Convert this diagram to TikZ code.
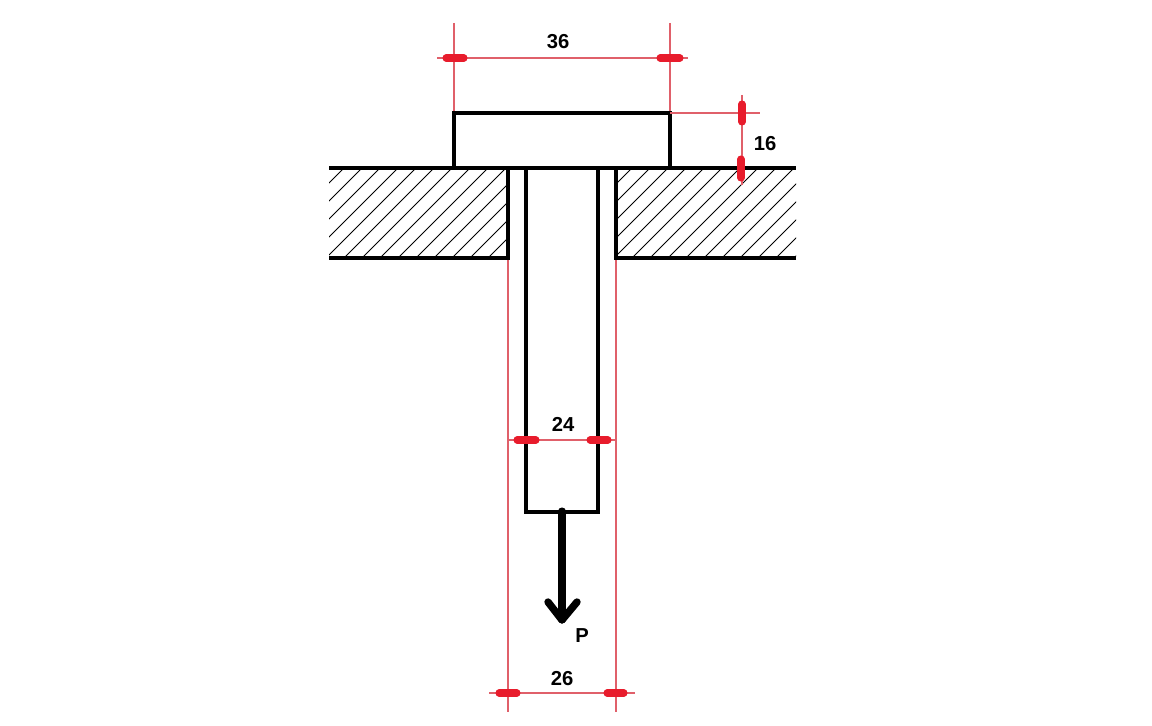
\documentclass[tikz,border=0pt]{standalone}
\usepackage{fontspec}
\setmainfont{Liberation Sans}
\definecolor{dimred}{RGB}{224,96,106}
\definecolor{tickred}{RGB}{232,28,44}
\begin{document}
\begin{tikzpicture}[x=0.02cm,y=-0.02cm,
  part/.style={line width=2pt,line join=miter},
  hatchline/.style={line width=0.5pt},
  dimline/.style={dimred,line width=0.6pt},
  dimtick/.style={tickred,line width=4pt,line cap=round},
  dimlabel/.style={inner sep=0pt,font=\fontsize{11.5}{12}\selectfont\bfseries}]
\useasboundingbox (0,0) rectangle (1152,726);

%hatching
\begin{scope}
\clip (329,168) rectangle (508,258);
\foreach \x in {344,362,...,704}
  \draw[hatchline] (\x,168) -- (\x-90,258);
\end{scope}
\begin{scope}
\clip (616,168) rectangle (796,258);
\foreach \x in {632,650,...,992}
  \draw[hatchline] (\x,168) -- (\x-90,258);
\end{scope}

%26 and 36 extension lines
\draw[dimline] (508,258) -- (508,712);
\draw[dimline] (616,258) -- (616,712);
\draw[dimline] (454,23) -- (454,113);
\draw[dimline] (670,23) -- (670,113);

%wall
\draw[part] (329,168) -- (796,168);
\draw[part] (329,258) -- (508,258) -- (508,168);
\draw[part] (796,258) -- (616,258) -- (616,168);

%head
\draw[part] (454,168) -- (454,113) -- (670,113) -- (670,168);

%shank
\draw[part] (526,168) -- (526,512) -- (598,512) -- (598,168);

%P
\draw[line width=4pt,line cap=round] (562,511) -- (562,620);
\draw[line width=4.2pt,line cap=round,line join=round] (548,602) -- (562,620) -- (577,602);
\node[dimlabel] (loadP) at (582,636) {P};

%36
\draw[dimline] (437,58) -- (688,58);
\draw[dimtick] (446,58) -- (464,58);
\draw[dimtick] (660,58) -- (680,58);
\node[dimlabel] (headwidth) at (558,42) {36};

%16
\draw[dimline] (670,113) -- (760,113);
\draw[dimline] (742,95) -- (742,185);
\draw[dimtick] (742,104) -- (742,122);
\draw[dimtick] (741,159) -- (741,178);
\node[dimlabel] (headheight) at (765,144) {16};

%24
\draw[dimline] (508,440) -- (616,440);
\draw[dimtick] (517,440) -- (536,440);
\draw[dimtick] (590,440) -- (608,440);
\node[dimlabel] (shankwidth) at (563,424) {24};

%26
\draw[dimline] (489,693) -- (635,693);
\draw[dimtick] (499,693) -- (517,693);
\draw[dimtick] (607,693) -- (624,693);
\node[dimlabel] (holewidth) at (562,679) {26};

\end{tikzpicture}
\end{document}
